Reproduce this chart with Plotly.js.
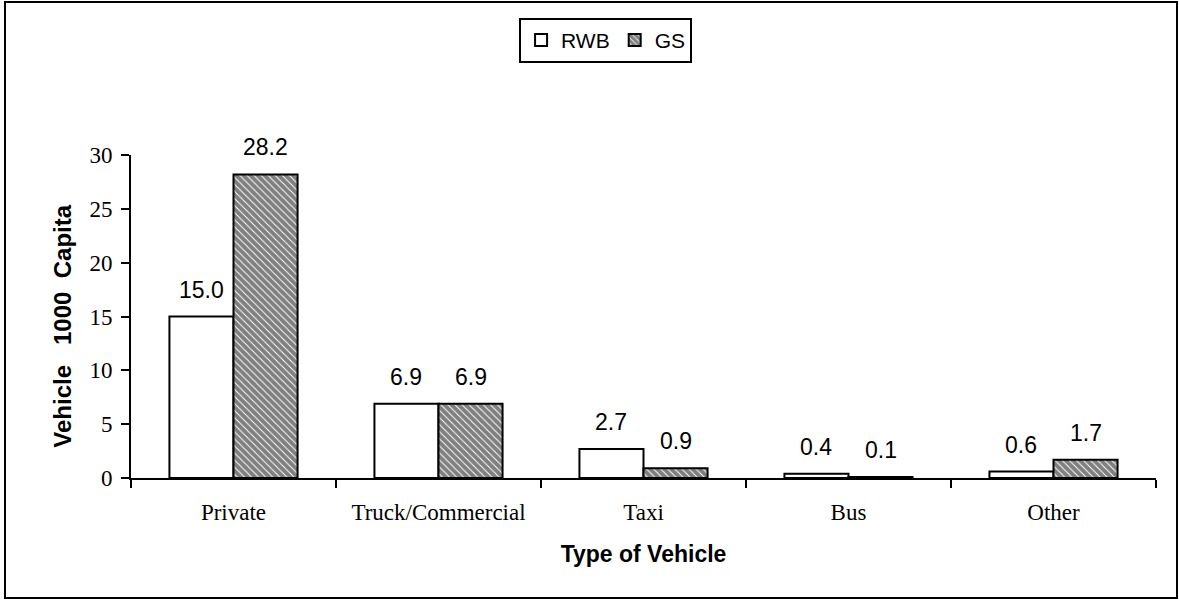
<!DOCTYPE html>
<html>
<head>
<meta charset="utf-8">
<script src="https://cdn.plot.ly/plotly-3.0.1.min.js"></script>
<style>
body{margin:0;padding:0;background:#fff;}
#wrap{position:relative;width:1179px;height:600px;}
#chart{width:1179px;height:600px;}
#frame{position:absolute;left:4px;top:1px;width:1174px;height:598px;border:2px solid #000;pointer-events:none;box-sizing:border-box;}
</style>
</head>
<body>
<div id="wrap"><div id="chart"></div><div id="frame"></div></div>
<script>
const categories = ["Private", "Truck/Commercial", "Taxi", "Bus", "Other"];
const rwb = [15.0, 6.9, 2.7, 0.4, 0.6];
const gs = [28.2, 6.9, 0.9, 0.1, 1.7];
const seriesNames = ["RWB", "GS"];
const yTitle = "Vehicle&nbsp;&nbsp;&nbsp;1000&nbsp;&nbsp;Capita";
const xTitle = "Type of Vehicle";

const fmt = v => v.toFixed(1);
const sans = "Liberation Sans, Arial, sans-serif";
const serif = "Liberation Serif, Times New Roman, serif";

const margin = {l: 131, r: 23, t: 155, b: 122};
const W = 1179, H = 600;
const bargap = 0.375;
const catPx = (W - margin.l - margin.r) / categories.length;
const barPx = catPx * (1 - bargap) / 2;

const traces = [
  {
    type: "bar", name: seriesNames[0], x: categories, y: rwb,
    marker: {color: "#fff", line: {color: "#000", width: 2}}
  },
  {
    type: "bar", name: seriesNames[1], x: categories, y: gs,
    marker: {color: "#fff", line: {color: "#000", width: 2},
      pattern: {shape: "\\", bgcolor: "#fff", fgcolor: "#000", size: 5, solidity: 0.8, fillmode: "overlay"}}
  }
];

const annotations = [];
[rwb, gs].forEach((vals, i) => {
  vals.forEach((v, j) => {
    annotations.push({
      x: categories[j], y: v, xref: "x", yref: "y",
      text: fmt(v), showarrow: false,
      xanchor: "center", yanchor: "bottom",
      xshift: (i === 0 ? -1 : 1) * barPx / 2, yshift: 12,
      font: {family: sans, size: 23, color: "#000"}
    });
  });
});
annotations.push({
  xref: "paper", yref: "paper", x: -0.0668, y: 0.47,
  xanchor: "center", yanchor: "middle", textangle: -90,
  text: yTitle, showarrow: false,
  font: {family: sans, size: 24, color: "#000", weight: "bold"}
});

const layout = {
  width: W, height: H,
  margin: margin,
  paper_bgcolor: "#fff", plot_bgcolor: "#fff",
  barmode: "group", bargap: bargap, bargroupgap: 0,
  showlegend: true,
  legend: {
    orientation: "h", x: 0.463, xanchor: "center", y: 1.425, yanchor: "top",
    bordercolor: "#000", borderwidth: 2, bgcolor: "#fff",
    font: {family: sans, size: 21, color: "#000"},
    itemwidth: 30, traceorder: "normal"
  },
  annotations: annotations,
  xaxis: {
    type: "category", showgrid: false, zeroline: false,
    showline: true, linecolor: "#000", linewidth: 2,
    ticks: "outside", tickson: "boundaries", ticklen: 8, tickwidth: 2, tickcolor: "#000",
    ticklabelstandoff: 12,
    tickfont: {family: serif, size: 23, color: "#000"},
    title: {text: xTitle, standoff: 22,
      font: {family: sans, size: 23, color: "#000", weight: "bold"}}
  },
  yaxis: {
    range: [0, 30], dtick: 5, showgrid: false, zeroline: false,
    showline: true, linecolor: "#000", linewidth: 2,
    ticks: "outside", ticklen: 8, tickwidth: 2, tickcolor: "#000",
    ticklabelstandoff: 4,
    tickfont: {family: serif, size: 23, color: "#000"}
  }
};

Plotly.newPlot("chart", traces, layout, {displayModeBar: false, staticPlot: true});
</script>
</body>
</html>
